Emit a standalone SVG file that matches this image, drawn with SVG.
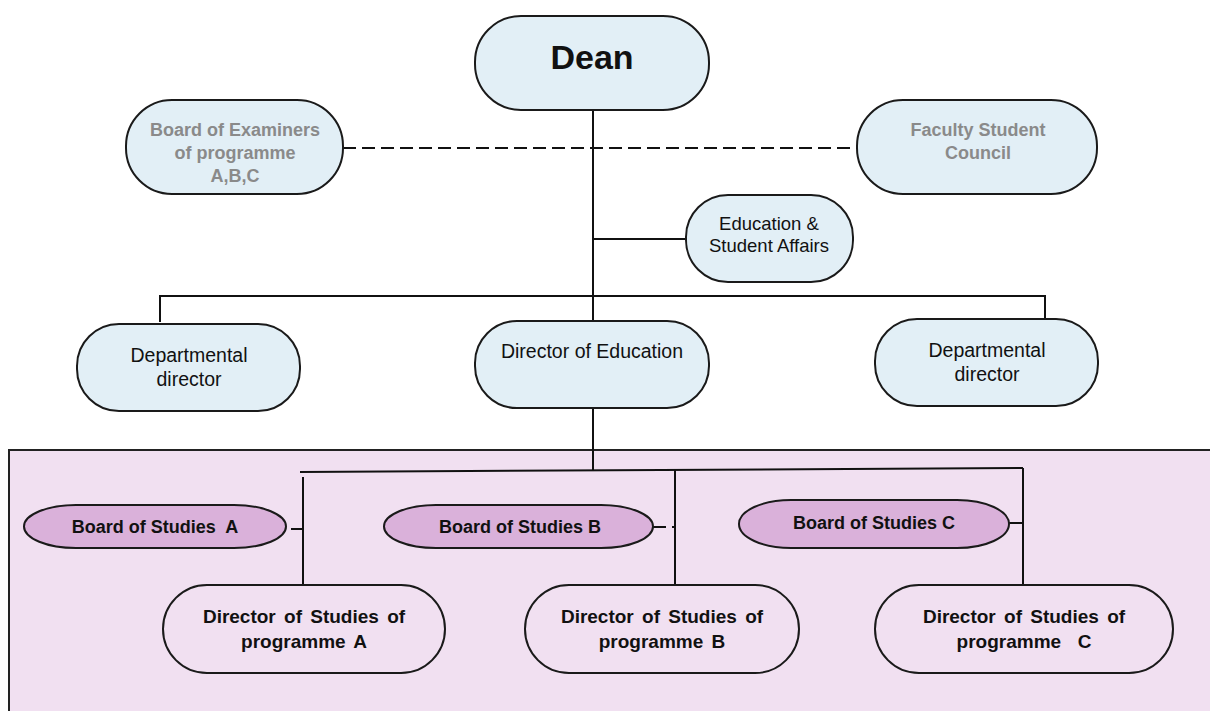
<svg xmlns="http://www.w3.org/2000/svg" width="1210" height="711" viewBox="0 0 1210 711">
  <style>
    .box { fill: #e2eff6; stroke: #1a1a1a; stroke-width: 2; }
    .prog { fill: #f1e0f1; stroke: #1a1a1a; stroke-width: 2; }
    .board { fill: #dab1da; stroke: #1a1a1a; stroke-width: 2; }
    .ln { stroke: #111; stroke-width: 2; fill: none; }
    .dash { stroke: #111; stroke-width: 2; fill: none; stroke-dasharray: 13 6; }
    text { font-family: "Liberation Sans", Arial, sans-serif; text-anchor: middle; fill: #111; }
    .reg { font-size: 19.5px; }
    .small { font-size: 18.5px; }
    .grey { font-size: 18px; font-weight: bold; fill: #8a8a8a; }
    .bold { font-size: 18px; font-weight: bold; }
    .bold19 { font-size: 19px; font-weight: bold; word-spacing: 3px; }
  </style>

  <!-- programme area -->
  <rect id="programme-area" x="9" y="450" width="1220" height="280" fill="#f1e0f1" stroke="#222" stroke-width="2"/>

  <g id="connectors">
    <line class="dash" x1="343" y1="148" x2="857" y2="148"/>
    <line class="ln" x1="593" y1="110" x2="593" y2="322"/>
    <line class="ln" x1="593" y1="239" x2="686" y2="239"/>
    <polyline class="ln" points="160,322 160,296 1045,296 1045,319"/>
    <line class="ln" x1="593" y1="408" x2="593" y2="470"/>
    <line class="ln" x1="300" y1="472" x2="1023" y2="468"/>
    <line class="ln" x1="303" y1="477" x2="303" y2="585"/>
    <line class="ln" x1="675" y1="470" x2="675" y2="585"/>
    <line class="ln" x1="1023" y1="468" x2="1023" y2="585"/>
    <line class="dash" x1="272" y1="529" x2="303" y2="529"/>
    <line class="dash" x1="653" y1="527" x2="675" y2="527"/>
    <line class="ln" x1="1009" y1="523" x2="1023" y2="523"/>
  </g>

  <g id="dean">
    <rect class="box" x="475" y="16" width="234" height="94" rx="46" ry="46"/>
    <text x="592" y="69" style="font-size:34px;font-weight:bold">Dean</text>
  </g>

  <g id="board-of-examiners">
    <rect class="box" x="126" y="100" width="217" height="94" rx="46" ry="46"/>
    <text class="grey" x="235" y="136">Board of Examiners</text>
    <text class="grey" x="235" y="159">of programme</text>
    <text class="grey" x="235" y="182">A,B,C</text>
  </g>

  <g id="faculty-student-council">
    <rect class="box" x="857" y="100" width="240" height="94" rx="46" ry="46"/>
    <text class="grey" x="978" y="136">Faculty Student</text>
    <text class="grey" x="978" y="159">Council</text>
  </g>

  <g id="education-student-affairs">
    <rect class="box" x="686" y="195" width="167" height="87" rx="42" ry="42"/>
    <text class="small" x="769" y="230">Education &amp;</text>
    <text class="small" x="769" y="252">Student Affairs</text>
  </g>

  <g id="departmental-director-left">
    <rect class="box" x="77" y="324" width="223" height="87" rx="42" ry="42"/>
    <text class="reg" x="189" y="362">Departmental</text>
    <text class="reg" x="189" y="386">director</text>
  </g>

  <g id="director-of-education">
    <rect class="box" x="475" y="321" width="234" height="87" rx="42" ry="42"/>
    <text class="reg" x="592" y="358">Director of Education</text>
  </g>

  <g id="departmental-director-right">
    <rect class="box" x="875" y="319" width="223" height="87" rx="42" ry="42"/>
    <text class="reg" x="987" y="357">Departmental</text>
    <text class="reg" x="987" y="381">director</text>
  </g>

  <g id="board-of-studies-a">
    <rect class="board" x="24" y="505" width="262" height="43" rx="52" ry="21.5"/>
    <text class="bold" x="155" y="533" xml:space="preserve">Board of Studies  A</text>
  </g>

  <g id="board-of-studies-b">
    <rect class="board" x="384" y="505" width="269" height="43" rx="52" ry="21.5"/>
    <text class="bold" x="520" y="533">Board of Studies B</text>
  </g>

  <g id="board-of-studies-c">
    <rect class="board" x="739" y="500" width="270" height="48" rx="52" ry="24"/>
    <text class="bold" x="874" y="529">Board of Studies C</text>
  </g>

  <g id="director-of-studies-a">
    <rect class="prog" x="163" y="585" width="282" height="88" rx="44" ry="44"/>
    <text class="bold19" x="304" y="623">Director of Studies of</text>
    <text class="bold19" x="304" y="648">programme A</text>
  </g>

  <g id="director-of-studies-b">
    <rect class="prog" x="525" y="585" width="274" height="88" rx="44" ry="44"/>
    <text class="bold19" x="662" y="623">Director of Studies of</text>
    <text class="bold19" x="662" y="648">programme B</text>
  </g>

  <g id="director-of-studies-c">
    <rect class="prog" x="875" y="585" width="298" height="88" rx="44" ry="44"/>
    <text class="bold19" x="1024" y="623">Director of Studies of</text>
    <text class="bold19" x="1024" y="648" xml:space="preserve">programme  C</text>
  </g>
</svg>
